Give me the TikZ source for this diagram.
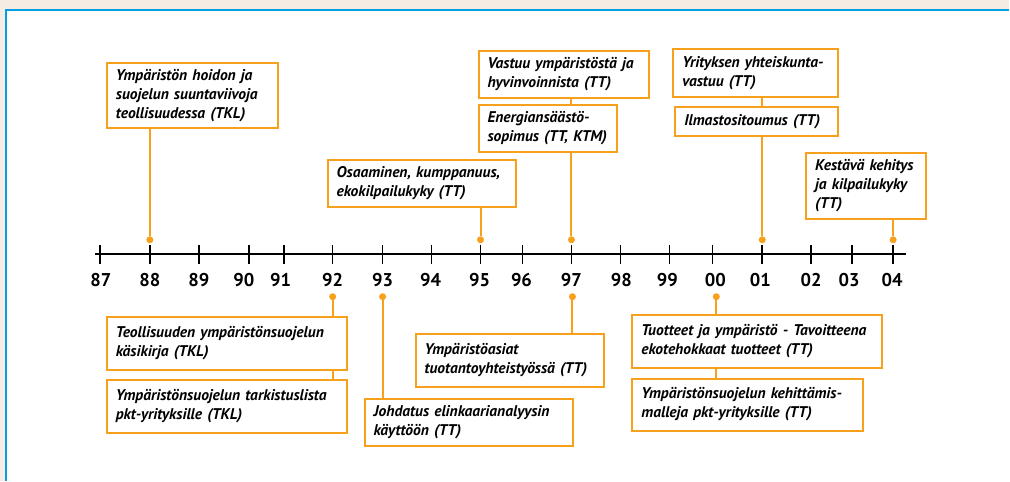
\documentclass[tikz,border=0pt]{standalone}
\usepackage{fontspec}
\setmainfont{PT Sans}
\usetikzlibrary{positioning}
\definecolor{evorange}{RGB}{247,160,28}
\definecolor{frameblue}{RGB}{0,160,227}
\definecolor{pagebeige}{RGB}{245,237,227}

\begin{document}
\begin{tikzpicture}[
        x=1pt, y=-1pt,
        event/.style={rectangle, draw=evorange, line width=2pt, fill=white, anchor=north west, align=left, inner xsep=9pt, inner ysep=0pt, font=\fontsize{15.5}{19}\selectfont\bfseries\itshape},
        stem/.style={draw=evorange, line width=2pt},
        dot/.style={circle, fill=evorange, inner sep=0pt, minimum size=7pt},
        yearlbl/.style={font=\fontsize{18.5}{20}\selectfont\bfseries},
        tickmark/.style={line width=1.6pt}
    ]

    % Page and frame
    \fill[pagebeige] (0,0) rectangle (1010,481);
    \fill[white] (6,10) rectangle (1010,481);
    \draw[frameblue, line width=2pt] (6,481) -- (6,10) -- (1010,10);

    % Time axis
    \draw[line width=1.6pt] (95,254) -- (907,254);
    \foreach \yr/\tx/\lx in {87/100/101, 88/150/150, 89/199/199, 90/249/244, 91/284/281, 92/333/333, 93/383/383, 94/432/431, 95/481/480, 96/523/522, 97/572/572, 98/621/622, 99/670/668, 00/713/716, 01/763/761, 02/812/812, 03/853/850, 04/894/893} {
        \draw[tickmark] (\tx,245) -- (\tx,264);
        \node[yearlbl] (y\yr) at (\lx,280) {\yr};
    }

    % Markers on the axis
    \node[dot] (d88) at (150,240) {};
    \node[dot] (d95) at (481,240) {};
    \node[dot] (d97t) at (572,240) {};
    \node[dot] (d01) at (763,240) {};
    \node[dot] (d04) at (894,240) {};
    \node[dot] (d92) at (333,297) {};
    \node[dot] (d93) at (383,297) {};
    \node[dot] (d97b) at (573,297) {};
    \node[dot] (d00) at (717,297) {};

    % Events above the axis
    \node[event, text width=153pt, minimum height=65pt] (e88) at (106,62) {Ympäristön hoidon ja\\suojelun suuntaviivoja\\teollisuudessa (TKL)};
    \node[event, text width=171pt, minimum height=47pt] (e95) at (327,159) {Osaaminen, kumppanuus,\\ekokilpailukyky (TT)};
    \node[event, text width=153pt, minimum height=47pt] (e97a) at (478,50) {Vastuu ympäristöstä ja\\hyvinvoinnista (TT)};
    \node[event, text width=121pt, minimum height=47pt] (e97b) at (478,104) {Energiansäästö-\\sopimus (TT, KTM)};
    \node[event, text width=147pt, minimum height=48pt] (e01a) at (673,48) {Yrityksen yhteiskunta-\\vastuu (TT)};
    \node[event, text width=145pt, minimum height=29pt] (e01b) at (675,106) {Ilmastositoumus (TT)};
    \node[event, text width=102pt, minimum height=66pt] (e04) at (806,152) {Kestävä kehitys\\ja kilpailukyky\\(TT)};

    % Events below the axis
    \node[event, text width=222pt, minimum height=53pt] (e92a) at (106,316) {Teollisuuden ympäristönsuojelun\\käsikirja (TKL)};
    \node[event, text width=222pt, minimum height=53pt] (e92b) at (106,379) {Ympäristönsuojelun tarkistuslista\\pkt-yrityksille (TKL)};
    \node[event, text width=191pt, minimum height=47pt] (e93) at (364,398) {Johdatus elinkaarianalyysin\\käyttöön (TT)};
    \node[event, text width=171pt, minimum height=53pt] (e97c) at (415,333) {Ympäristöasiat\\tuotantoyhteistyössä (TT)};
    \node[event, text width=232pt, minimum height=53pt] (e00a) at (632,314) {Tuotteet ja ympäristö - Tavoitteena\\ekotehokkaat tuotteet (TT)};
    \node[event, text width=213pt, minimum height=52pt] (e00b) at (632,378) {Ympäristönsuojelun kehittämis-\\malleja pkt-yrityksille (TT)};

    % Stems from markers to events
    \draw[stem] (d88) -- (d88 |- e88.south);
    \draw[stem] (d95) -- (d95 |- e95.south);
    \draw[stem] (d97t) -- (d97t |- e97b.south);
    \draw[stem] (d97t |- e97b.north) -- (d97t |- e97a.south);
    \draw[stem] (d01) -- (d01 |- e01b.south);
    \draw[stem] (d01 |- e01b.north) -- (d01 |- e01a.south);
    \draw[stem] (d04) -- (d04 |- e04.south);
    \draw[stem] (d92) -- (d92 |- e92a.north);
    \draw[stem] (d92 |- e92a.south) -- (d92 |- e92b.north);
    \draw[stem] (d93) -- (d93 |- e93.north);
    \draw[stem] (d97b) -- (d97b |- e97c.north);
    \draw[stem] (d00) -- (d00 |- e00a.north);
    \draw[stem] (d00 |- e00a.south) -- (d00 |- e00b.north);

\end{tikzpicture}
\end{document}
